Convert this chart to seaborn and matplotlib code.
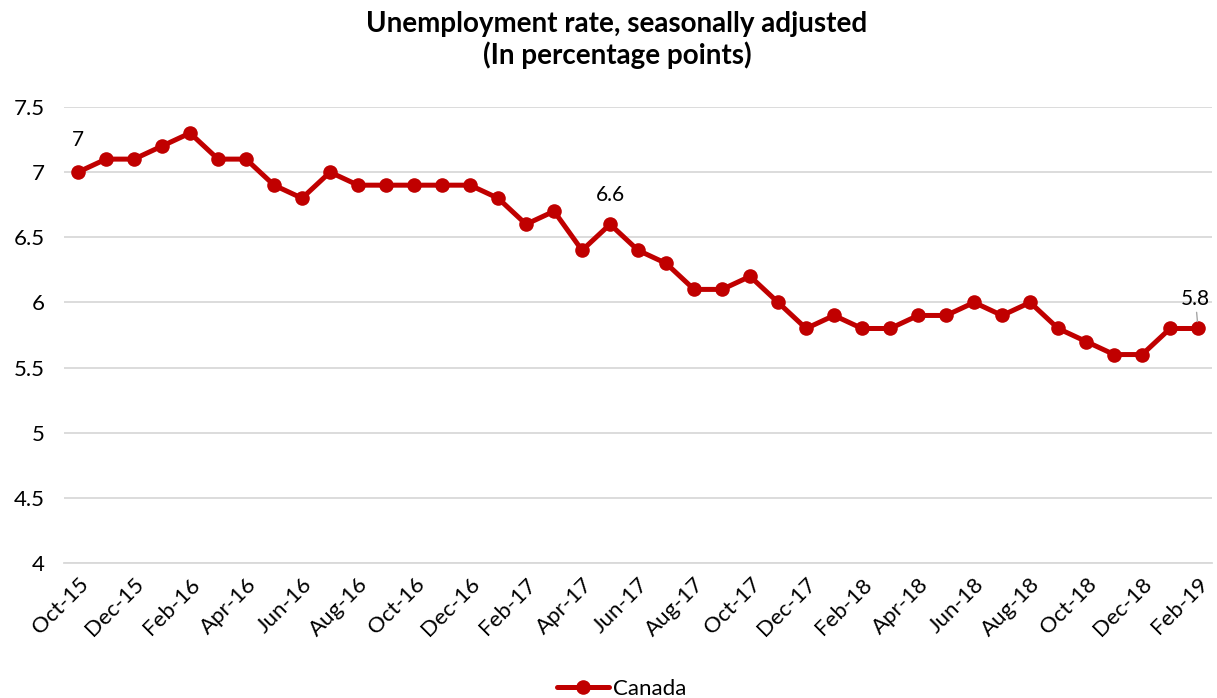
import matplotlib
matplotlib.use("Agg")
import matplotlib.pyplot as plt
import seaborn as sns
import pandas as pd
import numpy as np

months = ["Oct-15","Nov-15","Dec-15","Jan-16","Feb-16","Mar-16","Apr-16","May-16","Jun-16","Jul-16",
          "Aug-16","Sep-16","Oct-16","Nov-16","Dec-16","Jan-17","Feb-17","Mar-17","Apr-17","May-17",
          "Jun-17","Jul-17","Aug-17","Sep-17","Oct-17","Nov-17","Dec-17","Jan-18","Feb-18","Mar-18",
          "Apr-18","May-18","Jun-18","Jul-18","Aug-18","Sep-18","Oct-18","Nov-18","Dec-18","Jan-19","Feb-19"]
canada = [7.0,7.1,7.1,7.2,7.3,7.1,7.1,6.9,6.8,7.0,
          6.9,6.9,6.9,6.9,6.9,6.8,6.6,6.7,6.4,6.6,
          6.4,6.3,6.1,6.1,6.2,6.0,5.8,5.9,5.8,5.8,
          5.9,5.9,6.0,5.9,6.0,5.8,5.7,5.6,5.6,5.8,5.8]
yticks = [4, 4.5, 5, 5.5, 6, 6.5, 7, 7.5]
ytick_labels = ["4", "4.5", "5", "5.5", "6", "6.5", "7", "7.5"]

sns.set_theme(style="white")
plt.rcParams['font.family'] = ['Lato', 'DejaVu Sans']
plt.rcParams['text.color'] = 'black'
plt.rcParams['xtick.color'] = 'black'
plt.rcParams['ytick.color'] = 'black'

df = pd.DataFrame({"idx": np.arange(len(months)), "month": months, "Canada": canada})

fig = plt.figure(figsize=(12.17, 6.98), dpi=100)
ax = fig.add_axes([0.0526, 0.1934, 0.9434, 0.6533])
color = "#C00000"
sns.lineplot(data=df, x="idx", y="Canada", ax=ax, color=color, linewidth=3.6,
             marker="o", markersize=10.5, markeredgewidth=0, label="Canada", legend=False)

ax.set_xlim(-0.5, len(months) - 0.5)
ax.set_ylim(4, 7.5)
ax.set_yticks(yticks)
ax.set_yticklabels(ytick_labels, fontsize=16, color="#000000")
ax.yaxis.grid(True, color="#D9D9D9", linewidth=1.3)
ax.set_axisbelow(True)
for s in ["top", "right", "left"]:
    ax.spines[s].set_visible(False)
ax.spines["bottom"].set_color("#D9D9D9")
ax.spines["bottom"].set_linewidth(1.3)

ax.set_xticks(df["idx"][::2])
ax.set_xticklabels(df["month"][::2], rotation=45, ha="right", rotation_mode="anchor", fontsize=16)
ax.set_xticks(np.arange(-0.5, len(months), 1.0), minor=True)
ax.tick_params(axis="x", which="major", length=0, pad=8)
ax.tick_params(axis="x", which="minor", length=6, color="#D9D9D9", width=1.3, direction="out")
ax.tick_params(axis="y", length=0, pad=14)
ax.set_xlabel("")
ax.set_ylabel("")

# data labels
ax.annotate("7", (0, canada[0]), xytext=(0, 16), textcoords="offset points",
            ha="center", va="bottom", fontsize=15)
ax.annotate("6.6", (19, canada[19]), xytext=(0, 14), textcoords="offset points",
            ha="center", va="bottom", fontsize=15)
ax.annotate("5.8", (40, canada[40]), xytext=(-2, 14), textcoords="offset points",
            ha="center", va="bottom", fontsize=15,
            arrowprops=dict(arrowstyle="-", color="#A6A6A6", lw=1, shrinkA=0, shrinkB=5))

fig.suptitle("Unemployment rate, seasonally adjusted\n(In percentage points)",
             fontsize=20, fontweight="bold", y=0.984, x=0.507, linespacing=1.2, color="black")

handles, labels = ax.get_legend_handles_labels()
fig.legend(handles, labels, loc="lower center", bbox_to_anchor=(0.511, -0.03), frameon=False,
           fontsize=16, handlelength=2.3, handletextpad=0.2)

fig.savefig("out.png", dpi=100)
